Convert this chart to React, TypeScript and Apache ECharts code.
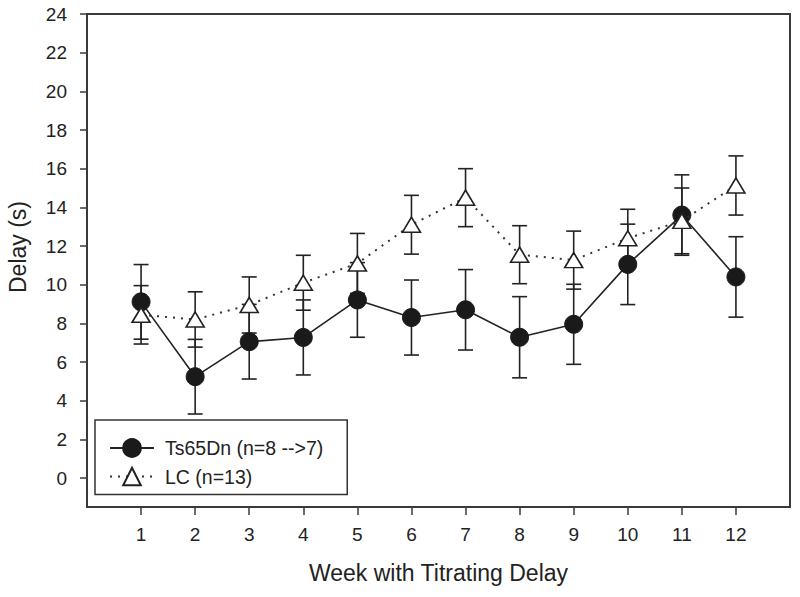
import React, { useEffect, useRef } from "react";
import * as echarts from "echarts";

const weeks = [1, 2, 3, 4, 5, 6, 7, 8, 9, 10, 11, 12];
const tsName = "Ts65Dn (n=8 -->7)";
const lcName = "LC (n=13)";
const tsMean = [9.11, 5.24, 7.05, 7.27, 9.21, 8.3, 8.7, 7.28, 7.95, 11.05, 13.6, 10.4];
const tsSem = [1.93, 1.93, 1.93, 1.94, 1.93, 1.94, 2.08, 2.1, 2.07, 2.08, 2.08, 2.08];
const lcMean = [8.44, 8.2, 8.95, 10.1, 11.1, 13.1, 14.5, 11.55, 11.27, 12.4, 13.3, 15.13];
const lcSem = [1.51, 1.43, 1.45, 1.42, 1.55, 1.52, 1.5, 1.5, 1.5, 1.5, 1.7, 1.53];
const yTicks = [0, 2, 4, 6, 8, 10, 12, 14, 16, 18, 20, 22, 24];
const xTitle = "Week with Titrating Delay";
const yTitle = "Delay (s)";

const FONT = "'Liberation Sans', Arial, Helvetica, sans-serif";
const INK = "#222";

function errorSeries(mean: number[], sem: number[], z: number) {
  return {
    type: "custom",
    silent: true,
    z,
    data: weeks.map((w, i) => [w, mean[i] - sem[i], mean[i] + sem[i]]),
    encode: { x: 0, y: [1, 2] },
    renderItem: (params: any, api: any) => {
      const x = api.value(0);
      const lo = api.coord([x, api.value(1)]);
      const hi = api.coord([x, api.value(2)]);
      const hw = 7.5;
      const style = { stroke: INK, lineWidth: 1.6 };
      return {
        type: "group",
        children: [
          { type: "line", shape: { x1: hi[0], y1: hi[1], x2: lo[0], y2: lo[1] }, style },
          { type: "line", shape: { x1: hi[0] - hw, y1: hi[1], x2: hi[0] + hw, y2: hi[1] }, style },
          { type: "line", shape: { x1: lo[0] - hw, y1: lo[1], x2: lo[0] + hw, y2: lo[1] }, style },
        ],
      };
    },
  };
}

export default function App() {
  const ref = useRef<HTMLDivElement>(null);
  useEffect(() => {
    if (!ref.current) return;
    const chart = echarts.init(ref.current, undefined, { renderer: "svg" });
    chart.setOption({
      animation: false,
      backgroundColor: "#fff",
      textStyle: { fontFamily: FONT, color: INK },
      grid: {
        left: 87,
        right: 10,
        top: 14,
        bottom: 90,
        show: true,
        borderColor: "#3a3a3a",
        borderWidth: 2,
        backgroundColor: "transparent",
      },
      legend: {
        data: [tsName, lcName],
        orient: "vertical",
        left: 95,
        top: 420,
        padding: [18, 24, 8, 14],
        borderColor: "#333",
        borderWidth: 1.5,
        itemWidth: 44,
        itemHeight: 22,
        itemGap: 8.5,
        selectedMode: false,
        textStyle: { fontFamily: FONT, fontSize: 19.5, color: INK, padding: [0, 0, 0, 6] },
      },
      xAxis: {
        type: "value",
        min: 0,
        max: 13,
        name: xTitle,
        nameLocation: "middle",
        nameGap: 54,
        nameTextStyle: { fontFamily: FONT, fontSize: 23, color: INK },
        axisLine: { show: true, onZero: false, lineStyle: { color: "#3a3a3a", width: 2 } },
        axisTick: { show: true, length: 8, customValues: weeks, lineStyle: { color: "#3a3a3a", width: 1.5 } },
        axisLabel: { customValues: weeks, margin: 18, fontSize: 19, color: INK, fontFamily: FONT },
        splitLine: { show: false },
      },
      yAxis: {
        type: "value",
        min: -1.5,
        max: 24,
        axisLine: { show: true, onZero: false, lineStyle: { color: "#3a3a3a", width: 2 } },
        axisTick: { show: true, length: 7, customValues: yTicks, lineStyle: { color: "#3a3a3a", width: 1.5 } },
        axisLabel: { customValues: yTicks, margin: 20, fontSize: 19, color: INK, fontFamily: FONT },
        splitLine: { show: false },
      },
      graphic: [
        {
          type: "text",
          x: 18,
          y: 247,
          rotation: Math.PI / 2,
          style: {
            text: yTitle,
            fontFamily: FONT,
            fontSize: 23,
            fill: INK,
            align: "center",
            verticalAlign: "middle",
          },
        },
      ],
      series: [
        errorSeries(tsMean, tsSem, 1),
        errorSeries(lcMean, lcSem, 1),
        {
          name: tsName,
          type: "line",
          z: 2,
          data: weeks.map((w, i) => [w, tsMean[i]]),
          symbol: "circle",
          symbolSize: 18,
          showAllSymbol: true,
          itemStyle: { color: "#1a1a1a", borderColor: "#1a1a1a", borderWidth: 1 },
          lineStyle: { color: INK, width: 1.6, type: "solid" },
        },
        {
          name: lcName,
          type: "line",
          z: 3,
          data: weeks.map((w, i) => [w, lcMean[i]]),
          symbol: "triangle",
          symbolSize: [18, 15],
          showAllSymbol: true,
          itemStyle: { color: "#fff", borderColor: INK, borderWidth: 1.6 },
          lineStyle: { color: "#333", width: 2, type: [2, 6], cap: "butt" },
        },
      ],
    });
    return () => chart.dispose();
  }, []);
  return (
    <div
      ref={ref}
      style={{ position: "absolute", left: 0, top: 0, width: 800, height: 597, background: "#fff" }}
    />
  );
}
